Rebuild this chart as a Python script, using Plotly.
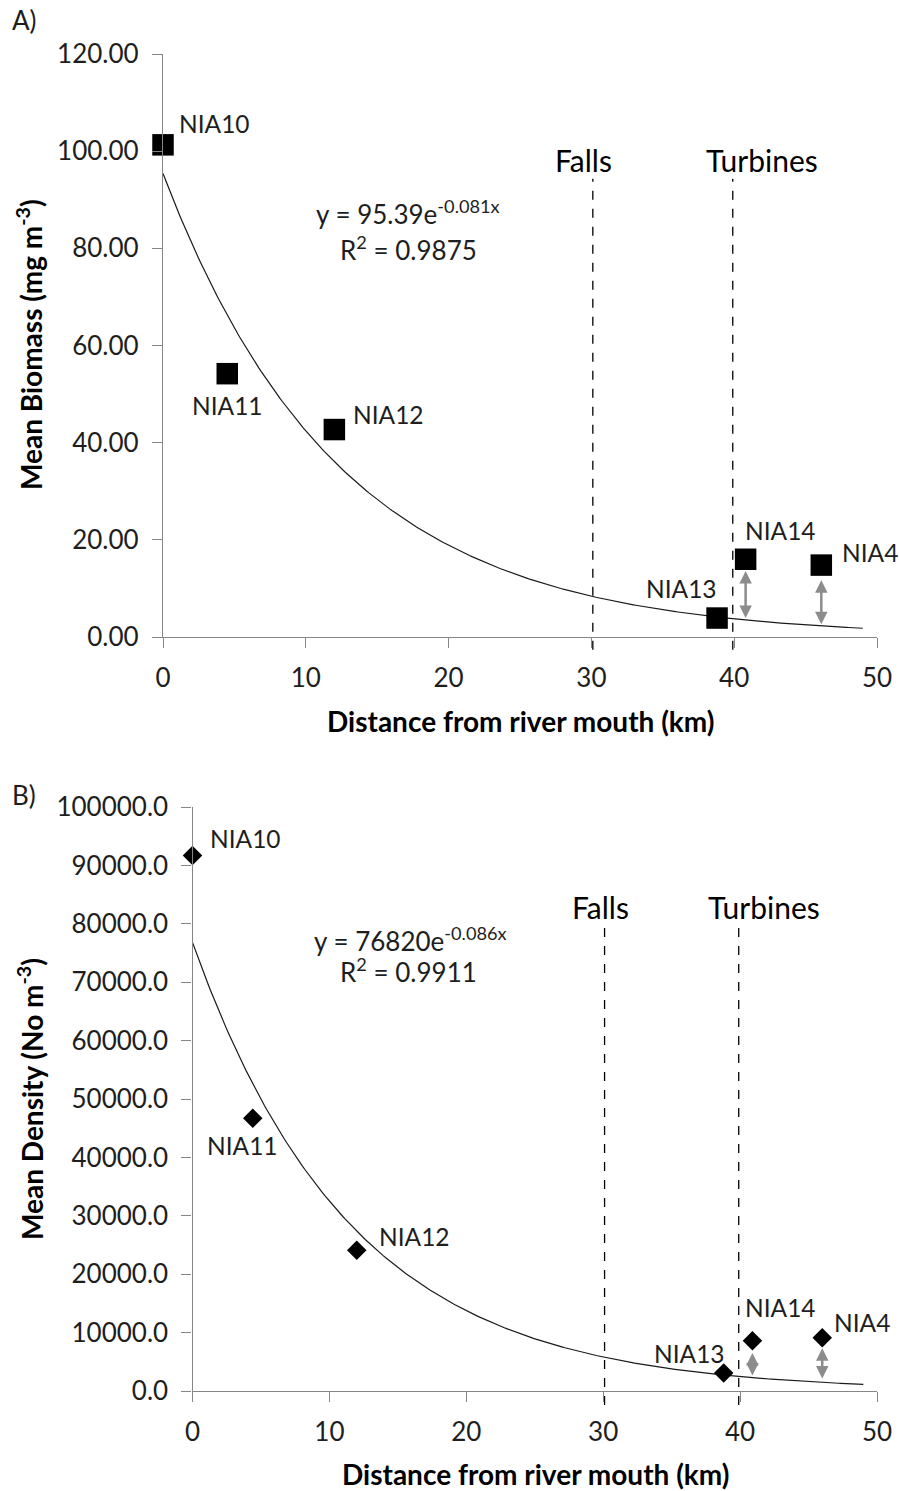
import numpy as np
import plotly.graph_objects as go

W, H = 899, 1491

# ---------------- data ----------------
sites = ["NIA10", "NIA11", "NIA12", "NIA13", "NIA14", "NIA4"]
distance_a = [0.0, 4.5, 12.0, 38.8, 40.8, 46.1]
biomass = [101.3, 54.2, 42.7, 3.9, 16.0, 14.8]

distance_b = [0.0, 4.4, 12.0, 38.8, 40.9, 46.0]
density = [91700, 46700, 24100, 3100, 8600, 9100]

fit_a = (95.39, -0.081)   # y = a*exp(b*x)
fit_b = (76820, -0.086)
fit_xmax = 49.0

falls_x = 30.1
turbines_x = 39.9

# arrows (from fitted curve up to the upstream sites)
arrow_sites = ["NIA14", "NIA4"]
arrow_a_x = [40.8, 46.1]
arrow_a_low = [3.6, 2.3]
arrow_a_high = [13.6, 11.7]
arrow_b_x = [40.9, 46.0]
arrow_b_low = [2400, 1900]
arrow_b_high = [6500, 7300]

# ---------------- layout helpers ----------------
def px_x(p):
    return p / W

def px_y(p):
    return 1 - p / H

FONT = "Lato, 'Open Sans', sans-serif"
TXT = "#1e1e1e"
AXC = "#868686"

fig = go.Figure()

xs = np.linspace(0, fit_xmax, 300)
fig.add_trace(go.Scatter(x=xs, y=fit_a[0] * np.exp(fit_a[1] * xs), mode="lines",
                         line=dict(color="#1a1a1a", width=1.2), xaxis="x", yaxis="y",
                         hoverinfo="skip", showlegend=False))
fig.add_trace(go.Scatter(x=distance_a, y=biomass, mode="markers",
                         marker=dict(symbol="square", size=21.5, color="black"),
                         cliponaxis=False, xaxis="x", yaxis="y", text=sites, showlegend=False))

fig.add_trace(go.Scatter(x=xs, y=fit_b[0] * np.exp(fit_b[1] * xs), mode="lines",
                         line=dict(color="#1a1a1a", width=1.2), xaxis="x2", yaxis="y2",
                         hoverinfo="skip", showlegend=False))
fig.add_trace(go.Scatter(x=distance_b, y=density, mode="markers",
                         marker=dict(symbol="diamond", size=15, color="black"),
                         cliponaxis=False, xaxis="x2", yaxis="y2", text=sites, showlegend=False))

axis_common = dict(showline=True, linecolor=AXC, linewidth=1.3, ticks="outside",
                   ticklen=10, tickcolor=AXC, tickwidth=1.3, showgrid=False, zeroline=False,
                   automargin=False, tickfont=dict(family=FONT, size=26, color=TXT))

fig.update_layout(
    width=W, height=H, margin=dict(l=0, r=0, t=0, b=0, autoexpand=False),
    paper_bgcolor="white", plot_bgcolor="white", showlegend=False,
    xaxis=dict(domain=[px_x(163), px_x(877)], range=[0, 50], tickvals=[0, 10, 20, 30, 40, 50],
               anchor="y", ticklabelstandoff=8, **axis_common),
    yaxis=dict(domain=[px_y(637), px_y(54)], range=[0, 120], tickvals=list(range(0, 121, 20)),
               tickformat=".2f", anchor="x", ticklabelstandoff=8, **axis_common),
    xaxis2=dict(domain=[px_x(192.5), px_x(877)], range=[0, 50], tickvals=[0, 10, 20, 30, 40, 50],
                anchor="y2", ticklabelstandoff=8, **axis_common),
    yaxis2=dict(domain=[px_y(1391), px_y(807)], range=[0, 100000],
                tickvals=list(range(0, 100001, 10000)), tickformat=".1f", anchor="x2",
                ticklabelstandoff=8, **axis_common),
)

ann = []
LBL = 24.5
# point labels
lab_a = {"NIA10": (14, 21, "left"), "NIA11": (0, -32, "center"), "NIA12": (17, 15, "left"),
         "NIA13": (2, 30, "right"), "NIA14": (-3, 29, "left"), "NIA4": (19, 13, "left")}
lab_b = {"NIA10": (15, 17, "left"), "NIA11": (-10, -27, "center"), "NIA12": (20, 14, "left"),
         "NIA13": (3, 19, "right"), "NIA14": (-9, 33, "left"), "NIA4": (10, 15, "left")}
for s, x, y in zip(sites, distance_a, biomass):
    dx, dy, xa = lab_a[s]
    ann.append(dict(x=x, y=y, xref="x", yref="y", text=s, showarrow=False, xanchor=xa,
                    yanchor="middle", xshift=dx, yshift=dy,
                    font=dict(family=FONT, size=LBL, color=TXT)))
for s, x, y in zip(sites, distance_b, density):
    dx, dy, xa = lab_b[s]
    ann.append(dict(x=x, y=y, xref="x2", yref="y2", text=s, showarrow=False, xanchor=xa,
                    yanchor="middle", xshift=dx, yshift=dy,
                    font=dict(family=FONT, size=LBL, color=TXT)))

# arrows
for x, lo, hi in zip(arrow_a_x, arrow_a_low, arrow_a_high):
    ann.append(dict(x=x, y=hi, ax=x, ay=lo, xref="x", yref="y", axref="x", ayref="y", text="",
                    showarrow=True, arrowhead=2, startarrowhead=2, arrowside="end+start",
                    arrowsize=1, startarrowsize=1, arrowwidth=2.5, arrowcolor="#8c8c8c"))
for x, lo, hi in zip(arrow_b_x, arrow_b_low, arrow_b_high):
    ann.append(dict(x=x, y=hi, ax=x, ay=lo, xref="x2", yref="y2", axref="x2", ayref="y2", text="",
                    showarrow=True, arrowhead=2, startarrowhead=2, arrowside="end+start",
                    arrowsize=1, startarrowsize=1, arrowwidth=2.5, arrowcolor="#8c8c8c"))

# Falls / Turbines labels
for xr, yr, yy, fs, ts in [("x", "y domain", 0.818, -9, 29), ("x2", "y2 domain", 0.828, -4, 25)]:
    ann.append(dict(x=falls_x, y=yy, xref=xr, yref=yr, text="Falls", showarrow=False,
                    xanchor="center", yanchor="middle",
                    xshift=fs, font=dict(family=FONT, size=30, color="black")))
    ann.append(dict(x=turbines_x, y=yy, xref=xr, yref=yr, text="Turbines", showarrow=False,
                    xanchor="center", yanchor="middle",
                    xshift=ts, font=dict(family=FONT, size=30, color="black")))

# equations
eqs = [("y = 95.39e<sup>-0.081x</sup>", 408, 212), ("R<sup>2</sup> = 0.9875", 408, 248),
       ("y = 76820e<sup>-0.086x</sup>", 410, 939), ("R<sup>2</sup> = 0.9911", 408, 970)]
for t, px, py in eqs:
    ann.append(dict(x=px_x(px), y=px_y(py), xref="paper", yref="paper", text=t, showarrow=False,
                    xanchor="center", yanchor="middle", font=dict(family=FONT, size=26, color=TXT)))

# axis titles and panel labels
TT = 28
ann += [
    dict(x=px_x(520), y=px_y(721), text="<b>Distance from river mouth (km)</b>",
         font=dict(family=FONT, size=TT, color="black")),
    dict(x=px_x(535), y=px_y(1474), text="<b>Distance from river mouth (km)</b>",
         font=dict(family=FONT, size=TT, color="black")),
    dict(x=px_x(30), y=px_y(345), text="<b>Mean Biomass (mg m<sup>-3</sup>)</b>",
         textangle=-90, font=dict(family=FONT, size=TT, color="black")),
    dict(x=px_x(30), y=px_y(1099), text="<b>Mean Density (No m<sup>-3</sup>)</b>",
         textangle=-90, font=dict(family=FONT, size=TT, color="black")),
    dict(x=px_x(24), y=px_y(20), text="A)", font=dict(family=FONT, size=26, color=TXT)),
    dict(x=px_x(24), y=px_y(795), text="B)", font=dict(family=FONT, size=26, color=TXT)),
]
for a in ann[-6:]:
    a.update(xref="paper", yref="paper", showarrow=False, xanchor="center", yanchor="middle")
fig.update_layout(annotations=ann)

# dashed vertical lines
shapes = []
for xr, yr, y0, y1 in [("x", "y domain", -0.022, 0.786), ("x2", "y2 domain", -0.024, 0.797)]:
    for xv in (falls_x, turbines_x):
        shapes.append(dict(type="line", xref=xr, yref=yr, x0=xv, x1=xv, y0=y0, y1=y1,
                           line=dict(color="black", width=1.3, dash="dash"), layer="below"))
fig.update_layout(shapes=shapes)

fig.write_html("out.html", config={"displayModeBar": False},
               post_script="document.body.style.margin='0';")
